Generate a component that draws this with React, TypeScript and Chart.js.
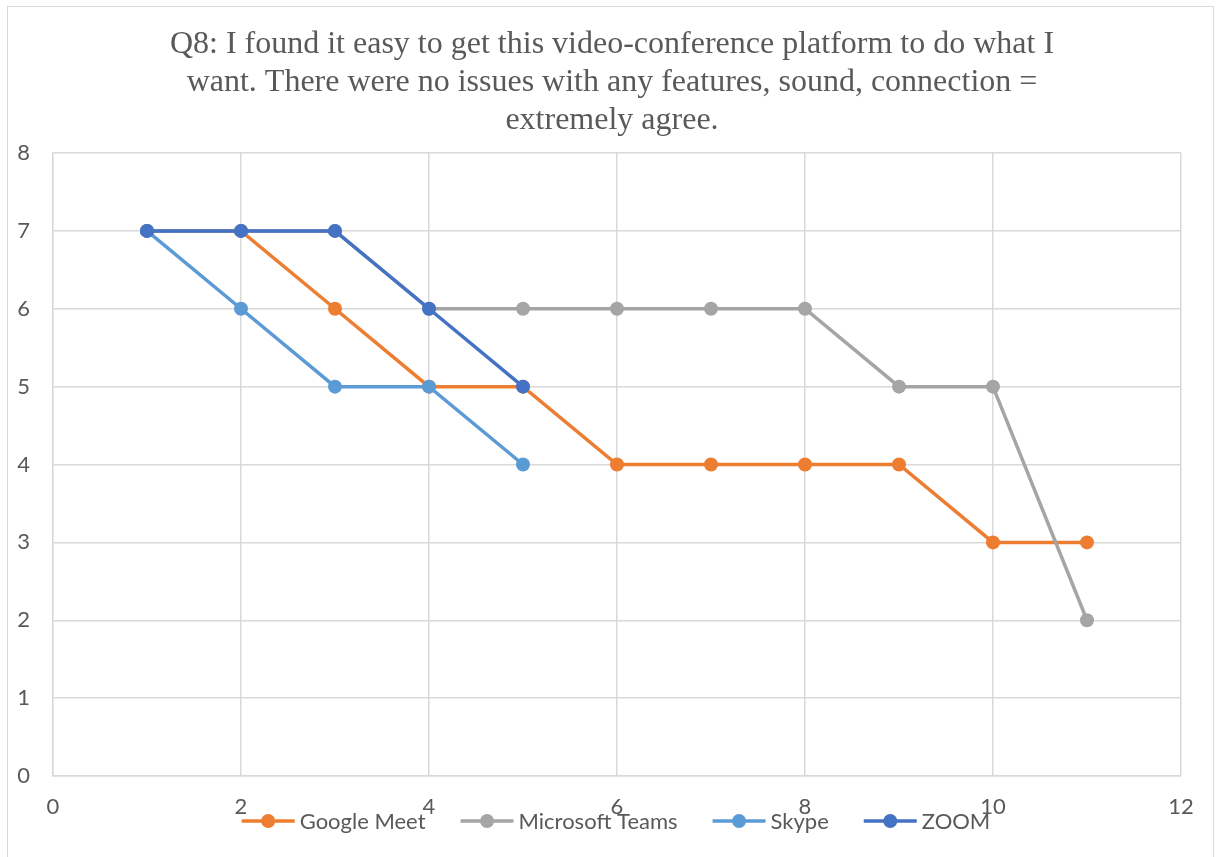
import React, { useEffect, useRef } from "react";
import { Chart, registerables } from "chart.js";

Chart.register(...registerables);

const titleLines = [
  "Q8: I found it easy to get this video-conference platform to do what I",
  "want. There were no issues with any features, sound, connection =",
  "extremely agree.",
];
const respondents = [1, 2, 3, 4, 5, 6, 7, 8, 9, 10, 11];
const googleMeet = [7, 7, 6, 5, 5, 4, 4, 4, 4, 3, 3];
const microsoftTeams = [7, 7, 7, 6, 6, 6, 6, 6, 5, 5, 2];
const skype = [7, 6, 5, 5, 4];
const zoom = [7, 7, 7, 6, 5];
const seriesNames = ["Google Meet", "Microsoft Teams", "Skype", "ZOOM"];
const seriesColors = ["#ED7D31", "#A5A5A5", "#5B9BD5", "#4472C4"];

const TEXT = "#595959";
const GRID = "#D9D9D9";
const SANS = "Lato, 'Liberation Sans', sans-serif";
const SERIF = "'Liberation Serif', 'Times New Roman', serif";

const toPoints = (vals: number[]) => vals.map((v, i) => ({ x: respondents[i], y: v }));

const frame = {
  id: "frame",
  beforeDraw(chart: any) {
    const ctx = chart.ctx;
    ctx.save();
    ctx.fillStyle = "#ffffff";
    ctx.fillRect(0, 0, chart.width, chart.height);
    ctx.strokeStyle = GRID;
    ctx.lineWidth = 1;
    ctx.strokeRect(7.5, 6.5, 1206, 1000);
    ctx.restore();
  },
};

const bottomLegend = {
  id: "bottomLegend",
  afterDraw(chart: any) {
    const ctx = chart.ctx;
    ctx.save();
    ctx.font = `22px ${SANS}`;
    const lineLen = 53;
    const textGap = 5;
    const itemGap = 35;
    const items = chart.data.datasets.map((d: any) => ({
      label: d.label,
      color: d.borderColor,
      w: lineLen + textGap + ctx.measureText(d.label).width,
    }));
    const total = items.reduce((s: number, it: any) => s + it.w, 0) + itemGap * (items.length - 1);
    let x = 616 - total / 2;
    const y = 821;
    for (const it of items) {
      ctx.strokeStyle = it.color;
      ctx.lineWidth = 3.5;
      ctx.beginPath();
      ctx.moveTo(x, y);
      ctx.lineTo(x + lineLen, y);
      ctx.stroke();
      ctx.fillStyle = it.color;
      ctx.beginPath();
      ctx.arc(x + lineLen / 2, y, 7, 0, Math.PI * 2);
      ctx.fill();
      ctx.fillStyle = TEXT;
      ctx.textBaseline = "middle";
      ctx.textAlign = "left";
      ctx.fillText(it.label, x + lineLen + textGap, y + 1);
      x += it.w + itemGap;
    }
    ctx.restore();
  },
};

export default function App() {
  const ref = useRef<HTMLCanvasElement>(null);
  useEffect(() => {
    document.body.style.margin = "0";
    const all = [googleMeet, microsoftTeams, skype, zoom];
    const chart = new Chart(ref.current!, {
      type: "scatter",
      data: {
        datasets: all.map((vals, i) => ({
          label: seriesNames[i],
          data: toPoints(vals),
          showLine: true,
          borderColor: seriesColors[i],
          backgroundColor: seriesColors[i],
          borderWidth: 3.5,
          pointRadius: 7,
          pointBorderWidth: 0,
          pointHoverRadius: 7,
          order: 4 - i,
        })),
      },
      options: {
        animation: false,
        responsive: false,
        layout: { padding: { left: 0, right: 0, top: 0, bottom: 0 } },
        plugins: {
          legend: { display: false },
          tooltip: { enabled: false },
          title: {
            display: true,
            text: titleLines,
            color: TEXT,
            font: { family: SERIF, size: 32, weight: "normal", lineHeight: 38 / 32 },
            padding: { top: 26, bottom: 13 },
          },
        },
        scales: {
          x: {
            type: "linear",
            min: 0,
            max: 12,
            ticks: { stepSize: 2, color: TEXT, font: { family: SANS, size: 22 }, padding: 18 },
            grid: { color: GRID, lineWidth: 1.5, drawTicks: false },
            border: { color: GRID, width: 1.5 },
            afterFit: (s: any) => { s.height = 81; },
          },
          y: {
            min: 0,
            max: 8,
            ticks: { stepSize: 1, color: TEXT, font: { family: SANS, size: 22 }, padding: 23 },
            grid: { color: GRID, lineWidth: 1.5, drawTicks: false },
            border: { color: GRID, width: 1.5 },
            afterFit: (s: any) => { s.width = 53; },
          },
          spacer: {
            type: "linear",
            position: "right",
            display: true,
            min: 0,
            max: 8,
            ticks: { display: false },
            grid: { display: false, drawTicks: false },
            border: { display: false },
            afterFit: (s: any) => { s.width = 43; },
          },
        },
      },
      plugins: [frame, bottomLegend],
    });
    return () => chart.destroy();
  }, []);
  return <canvas ref={ref} width={1224} height={857} style={{ display: "block" }} />;
}
